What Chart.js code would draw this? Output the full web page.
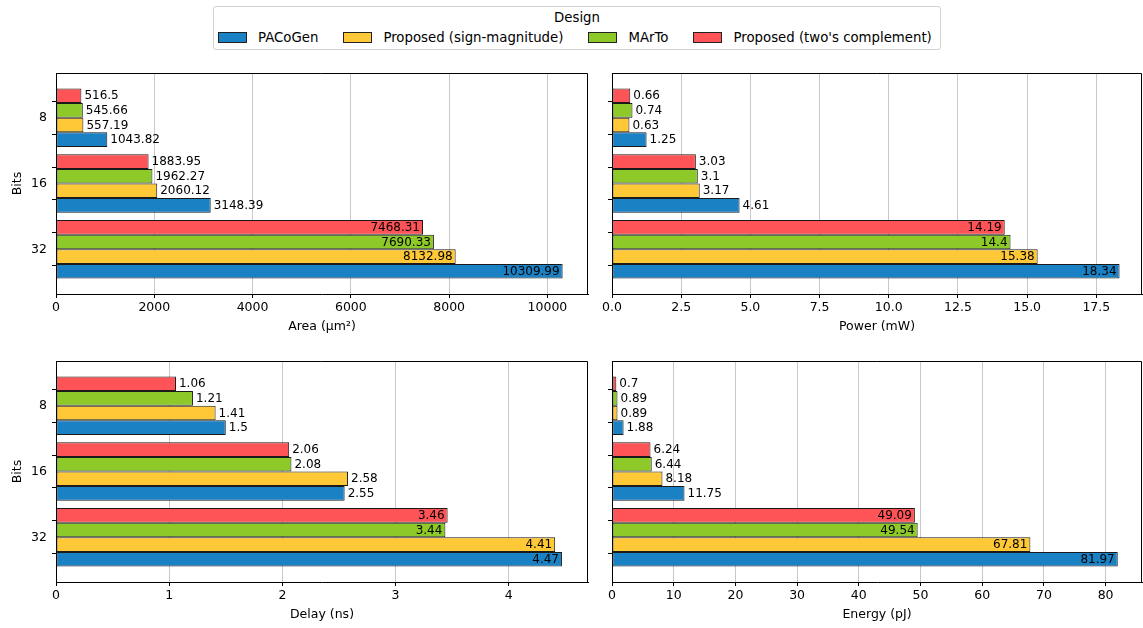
<!DOCTYPE html>
<html>
<head>
<meta charset="utf-8">
<script src="https://cdn.jsdelivr.net/npm/chart.js@4.4.1/dist/chart.umd.min.js"></script>
<style>
  body { margin: 0; background: #fff; font-family: 'DejaVu Sans', sans-serif; }
  #page { position: relative; width: 1143px; height: 628px; overflow: hidden; }
  #page canvas { position: absolute; }
  #legend {
    position: absolute; left: 213px; top: 6px; width: 726px; height: 42px;
    border: 1px solid #d2d2d2; border-radius: 3px; box-sizing: content-box;
    font-size: 13.3px; color: #000;
  }
  #legend .title { position: absolute; left: 0; right: 0; top: 3px; text-align: center; }
  #legend .items { position: absolute; left: 4px; top: 23px; display: flex; align-items: center; white-space: nowrap; }
  #legend .item { display: flex; align-items: center; margin-right: 25px; }
  #legend .item:last-child { margin-right: 0; }
  #legend .swatch { width: 27px; height: 9px; border: 1px solid #222; margin-right: 11px; }
</style>
</head>
<body>
<div id="page">
  <div id="legend">
    <div class="title">Design</div>
    <div class="items" id="legend-items"></div>
  </div>
  <canvas id="area-chart" width="600" height="280" style="left:0;top:56px"></canvas>
  <canvas id="power-chart" width="543" height="280" style="left:600px;top:56px"></canvas>
  <canvas id="delay-chart" width="600" height="280" style="left:0;top:344px"></canvas>
  <canvas id="energy-chart" width="543" height="280" style="left:600px;top:344px"></canvas>
</div>
<script>
const bits = ['8', '16', '32'];
const designs = ['PACoGen', 'Proposed (sign-magnitude)', 'MArTo', "Proposed (two's complement)"];
const designColors = ['#1b81c5', '#ffc837', '#8cc929', '#ff5457'];

// per-design values, one entry per bit width (8, 16, 32)
const areaPACoGen = [1043.82, 3148.39, 10309.99];
const areaSignMag = [557.19, 2060.12, 8132.98];
const areaMArTo = [545.66, 1962.27, 7690.33];
const areaTwos = [516.5, 1883.95, 7468.31];

const powerPACoGen = [1.25, 4.61, 18.34];
const powerSignMag = [0.63, 3.17, 15.38];
const powerMArTo = [0.74, 3.1, 14.4];
const powerTwos = [0.66, 3.03, 14.19];

const delayPACoGen = [1.5, 2.55, 4.47];
const delaySignMag = [1.41, 2.58, 4.41];
const delayMArTo = [1.21, 2.08, 3.44];
const delayTwos = [1.06, 2.06, 3.46];

const energyPACoGen = [1.88, 11.75, 81.97];
const energySignMag = [0.89, 8.18, 67.81];
const energyMArTo = [0.89, 6.44, 49.54];
const energyTwos = [0.7, 6.24, 49.09];

// values of the widest group sit inside their bars
const labelInside = [false, false, true];

Chart.defaults.font.family = "'DejaVu Sans', sans-serif";
Chart.defaults.font.size = 12.5;
Chart.defaults.color = '#000';

// legend shared by all four panels
const legendItems = document.getElementById('legend-items');
designs.forEach((name, i) => {
    const item = document.createElement('div');
    item.className = 'item';
    const sw = document.createElement('div');
    sw.className = 'swatch';
    sw.style.background = designColors[i];
    const txt = document.createElement('span');
    txt.textContent = name;
    item.appendChild(sw);
    item.appendChild(txt);
    legendItems.appendChild(item);
});

const barLabels = {
    id: 'barLabels',
    afterDatasetsDraw(chart) {
        const ctx = chart.ctx;
        ctx.save();
        ctx.font = "12px 'DejaVu Sans'";
        ctx.fillStyle = '#000';
        ctx.textBaseline = 'middle';
        chart.data.datasets.forEach((ds, i) => {
            chart.getDatasetMeta(i).data.forEach((bar, j) => {
                const v = ds.data[j].x;
                if (labelInside[j]) {
                    ctx.textAlign = 'right';
                    ctx.fillText(String(v), bar.x - 3, bar.y + 0.5);
                } else {
                    ctx.textAlign = 'left';
                    ctx.fillText(String(v), bar.x + 3, bar.y + 0.5);
                }
            });
        });
        ctx.restore();
    }
};

// top and right spines (left/bottom come from the axis borders)
const frame = {
    id: 'frame',
    afterDraw(chart) {
        const { left, top, right, bottom } = chart.chartArea;
        const ctx = chart.ctx;
        ctx.save();
        ctx.strokeStyle = '#000';
        ctx.lineWidth = 1;
        ctx.beginPath();
        ctx.moveTo(Math.round(left), Math.round(top) + 0.5);
        ctx.lineTo(Math.round(right) - 0.5, Math.round(top) + 0.5);
        ctx.lineTo(Math.round(right) - 0.5, Math.round(bottom));
        ctx.stroke();
        ctx.restore();
    }
};

function makeChart(canvasId, series, opts) {
    // drawn top to bottom inside each group: two's complement, MArTo, sign-magnitude, PACoGen
    const order = [3, 2, 1, 0];
    const datasets = order.map(k => ({
        label: designs[k],
        data: series[k].map((v, j) => ({ x: v, y: j })),
        backgroundColor: designColors[k],
        borderColor: '#1a1a1a',
        borderWidth: 1,
        borderSkipped: false,
        // bar ruler follows the half-step tick spacing, so the group spans 2 x 0.888
        categoryPercentage: 1.776,
        barPercentage: 1.0
    }));

    return new Chart(document.getElementById(canvasId), {
        type: 'bar',
        data: { datasets },
        options: {
            indexAxis: 'y',
            responsive: false,
            animation: false,
            layout: { padding: { top: 17, right: opts.padRight, left: 0, bottom: 0 } },
            plugins: { legend: { display: false }, tooltip: { enabled: false } },
            scales: {
                x: {
                    type: 'linear',
                    min: 0,
                    max: opts.xMax,
                    afterFit: s => { s.height = 42; },
                    afterBuildTicks: s => {
                        const t = [];
                        for (let v = 0; v <= opts.xMax + 1e-9; v += opts.step) t.push({ value: +v.toFixed(4) });
                        s.ticks = t;
                    },
                    ticks: {
                        autoSkip: false,
                        maxRotation: 0,
                        padding: 2,
                        callback: v => opts.fmt ? opts.fmt(v) : String(v)
                    },
                    grid: {
                        color: '#c8c8c8',
                        lineWidth: 1,
                        drawTicks: true,
                        tickLength: 4,
                        tickColor: '#000'
                    },
                    border: { display: true, color: '#000', width: 1 },
                    title: {
                        display: true,
                        text: opts.xTitle,
                        font: { size: 12.5 },
                        padding: { top: 0, bottom: 1.5 }
                    }
                },
                y: {
                    type: 'linear',
                    reverse: true,
                    offset: false,
                    min: -0.68,
                    max: 2.68,
                    afterFit: s => { s.width = opts.yWidth; },
                    afterBuildTicks: s => {
                        s.ticks = [-0.5, 0, 0.5, 1, 1.5, 2, 2.5].map(v => ({ value: v }));
                    },
                    ticks: {
                        display: opts.yLabels,
                        autoSkip: false,
                        padding: 5,
                        callback: v => Number.isInteger(v) ? bits[v] : ''
                    },
                    grid: {
                        drawOnChartArea: false,
                        drawTicks: true,
                        tickLength: 4,
                        tickColor: '#000'
                    },
                    border: { display: true, color: '#000', width: 1 },
                    title: {
                        display: opts.yLabels,
                        text: 'Bits',
                        font: { size: 12.5 },
                        padding: { top: 10.5, bottom: 0 }
                    }
                }
            }
        },
        plugins: [barLabels, frame]
    });
}

makeChart('area-chart', [areaPACoGen, areaSignMag, areaMArTo, areaTwos], {
    xMax: 10826, step: 2000, xTitle: 'Area (µm²)', padRight: 12, yWidth: 56, yLabels: true
});
makeChart('power-chart', [powerPACoGen, powerSignMag, powerMArTo, powerTwos], {
    xMax: 19.15, step: 2.5, xTitle: 'Power (mW)', padRight: 1, yWidth: 12, yLabels: false,
    fmt: v => v.toFixed(1)
});
makeChart('delay-chart', [delayPACoGen, delaySignMag, delayMArTo, delayTwos], {
    xMax: 4.70, step: 1, xTitle: 'Delay (ns)', padRight: 12, yWidth: 56, yLabels: true
});
makeChart('energy-chart', [energyPACoGen, energySignMag, energyMArTo, energyTwos], {
    xMax: 85.9, step: 10, xTitle: 'Energy (pJ)', padRight: 1, yWidth: 12, yLabels: false
});
</script>
</body>
</html>
